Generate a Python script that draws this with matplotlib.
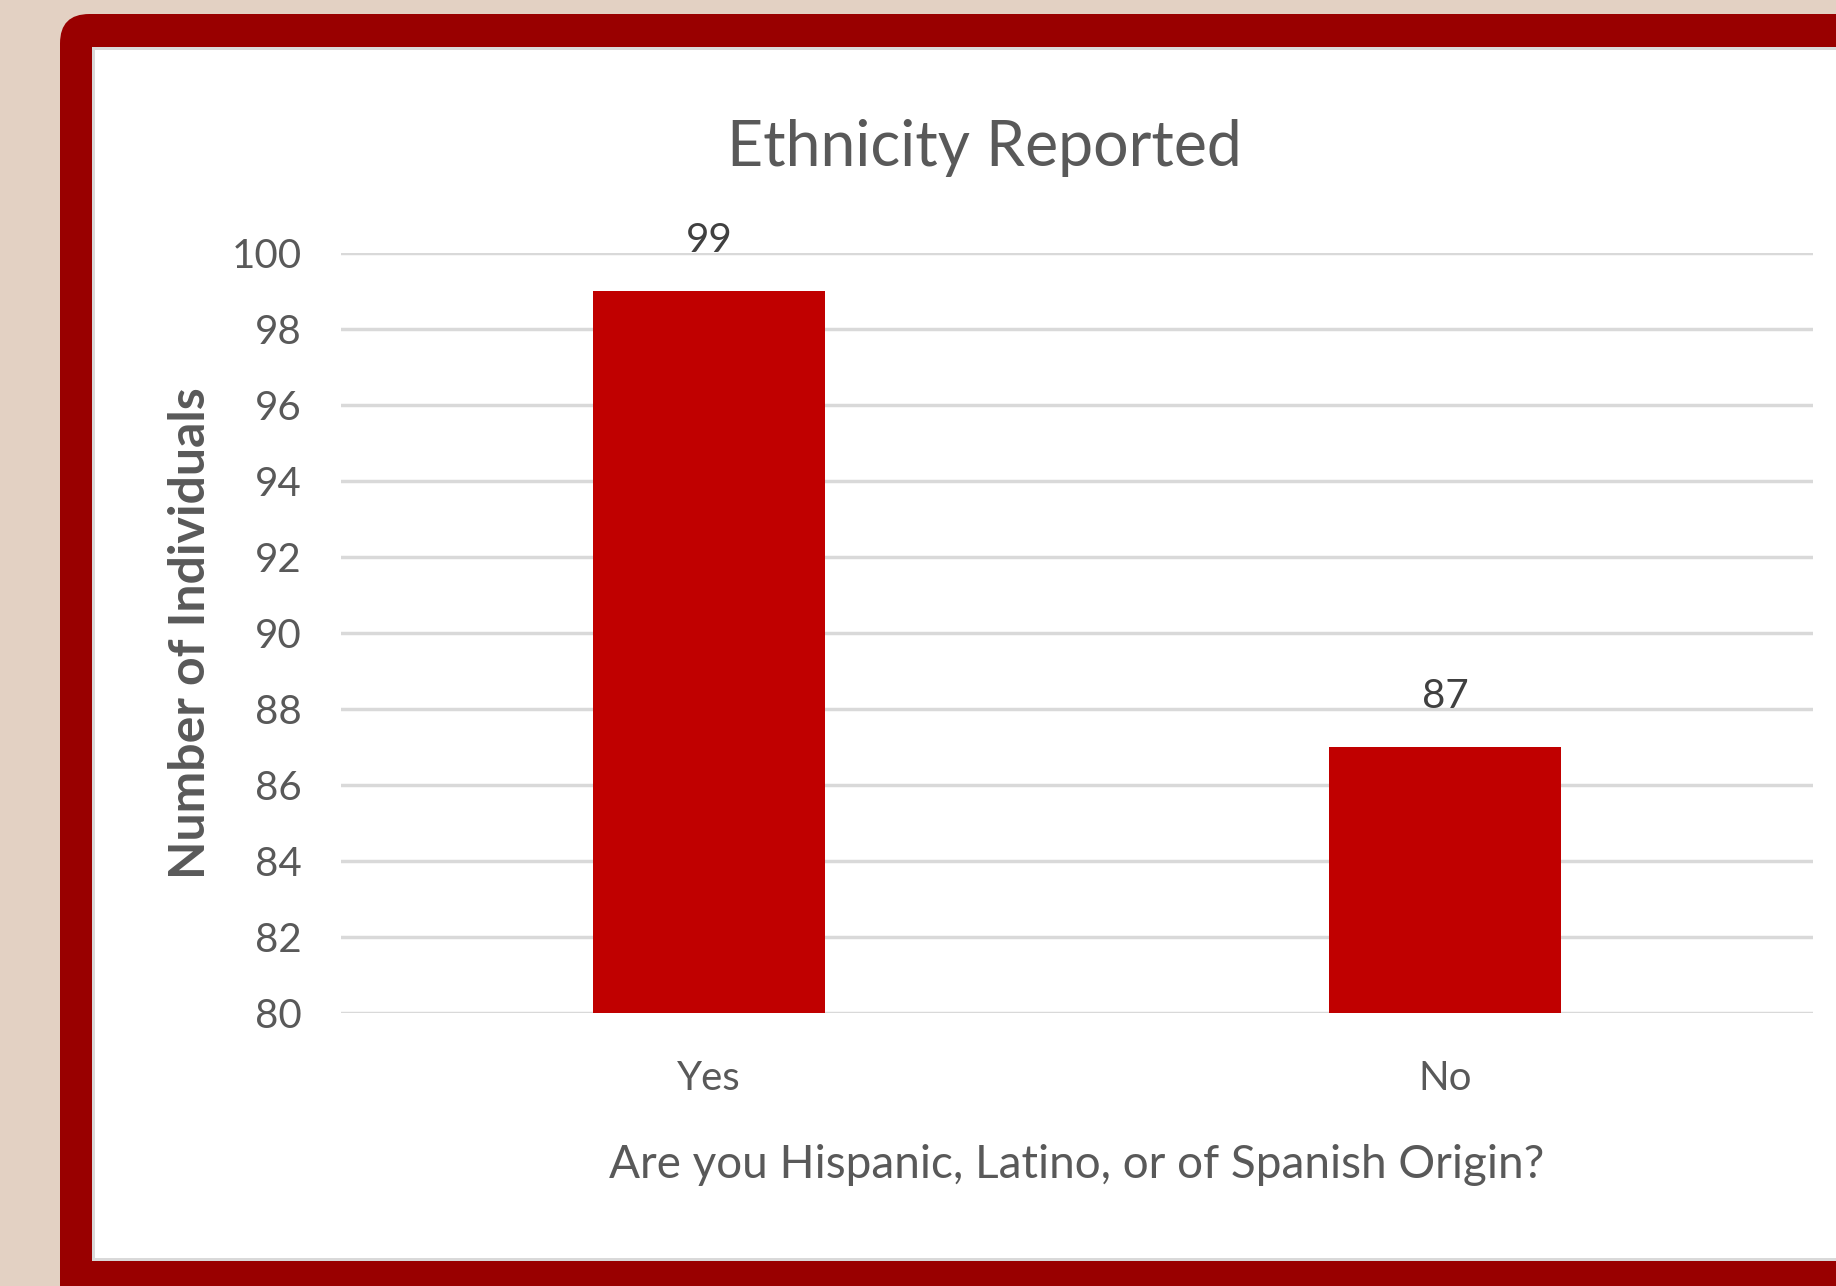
import matplotlib
matplotlib.use("Agg")
import matplotlib.pyplot as plt
from matplotlib.patches import FancyBboxPatch, Rectangle

plt.rcParams["font.family"] = ["Lato", "DejaVu Sans"]

# data
categories = ["Yes", "No"]
counts = [99, 87]
y_ticks = list(range(80, 101, 2))

title = "Ethnicity Reported"
x_label = "Are you Hispanic, Latino, or of Spanish Origin?"
y_label = "Number of Individuals"

W, H = 1836, 1286
fig = plt.figure(figsize=(W / 100, H / 100), dpi=100)
fig.patch.set_facecolor("#E3D1C3")

# red frame and white panel (pixel coords -> figure fraction)
def fx(px):
    return px / W

def fy(py):
    return 1 - py / H

frame = FancyBboxPatch((fx(60), fy(1330)), fx(1900) - fx(60), fy(14) - fy(1330),
                       boxstyle="round,pad=0,rounding_size=0.016",
                       mutation_aspect=W / H,
                       transform=fig.transFigure, facecolor="#990000",
                       edgecolor="none", zorder=0)
fig.patches.append(frame)
fig.patches.append(Rectangle((fx(92), fy(1261)), fx(1836) - fx(92), fy(47) - fy(1261),
                             transform=fig.transFigure, facecolor="#D9D9D9",
                             edgecolor="none", zorder=1))
fig.patches.append(Rectangle((fx(95), fy(1258)), fx(1836) - fx(95), fy(50) - fy(1258),
                             transform=fig.transFigure, facecolor="white",
                             edgecolor="none", zorder=2))

ax = fig.add_axes([fx(341), fy(1013), fx(1813) - fx(341), fy(253) - fy(1013)])
ax.set_zorder(5)
ax.set_facecolor("none")

x = list(range(len(categories)))
ax.bar(x, counts, width=0.315, color="#C00000", zorder=3)
ax.set_xlim(-0.5, len(categories) - 0.5)
ax.set_ylim(80, 100)
ax.set_yticks(y_ticks)
ax.set_xticks(x)
ax.set_xticklabels(categories)

ax.grid(axis="y", color="#D9D9D9", linewidth=2.5, zorder=0)
ax.set_axisbelow(True)
for s in ax.spines.values():
    s.set_visible(False)
ax.tick_params(axis="y", length=0, pad=28, labelsize=29, labelcolor="#595959")
ax.tick_params(axis="x", length=0, pad=34, labelsize=29, labelcolor="#595959")

for xi, v in zip(x, counts):
    ax.annotate(str(v), (xi, v), xytext=(0, 23), textcoords="offset points",
                ha="center", va="bottom", fontsize=29, color="#404040")

ax.set_xlabel(x_label, fontsize=33, color="#595959", labelpad=34)
ax.set_ylabel(y_label, fontsize=36, color="#595959", fontweight="bold", labelpad=14)

fig.text(fx(984), fy(148), title, fontsize=45, color="#595959",
         ha="center", va="center", zorder=6)

fig.savefig("out.png", dpi=100, facecolor=fig.get_facecolor())
